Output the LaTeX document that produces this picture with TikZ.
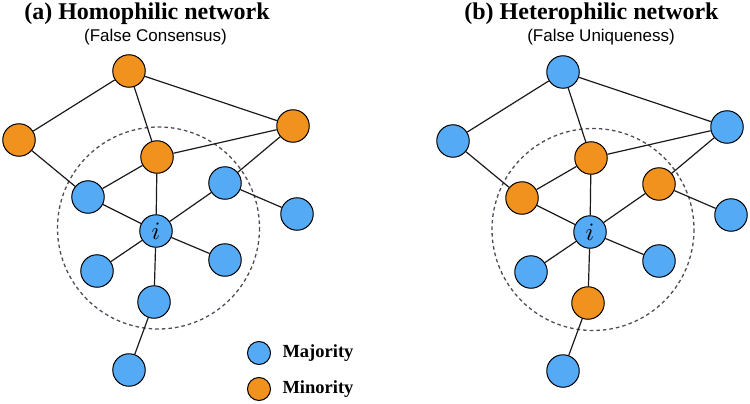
\documentclass[tikz,border=0pt]{standalone}
\usepackage{graphicx}
\usepackage{fontspec}
\setmainfont{Liberation Serif}
\newfontfamily\subfont{Liberation Sans}
\definecolor{majc}{HTML}{55AAF6}
\definecolor{minc}{HTML}{F2921E}
\definecolor{edgec}{HTML}{1A1A1A}
\definecolor{dashc}{HTML}{4A4F57}
\newcommand\ilabel{\scalebox{2.5}{$i$}}
\tikzset{
  nd/.style={circle,draw=black,line width=1pt,minimum size=32.5pt,inner sep=0pt},
  bnode/.style={nd,fill=majc},
  onode/.style={nd,fill=minc},
  lnk/.style={draw=edgec,line width=1.2pt},
  hood/.style={draw=dashc,line width=1.3pt,dash pattern=on 3.6pt off 3pt},
  ttl/.style={font=\fontsize{24}{28}\selectfont\bfseries,anchor=base},
  subttl/.style={font=\subfont\fontsize{17}{20}\selectfont,anchor=base},
  legc/.style={circle,draw=black,line width=1pt,minimum size=23pt,inner sep=0pt},
  legt/.style={font=\fontsize{18.5}{22}\selectfont\bfseries,anchor=base west},
}
\begin{document}
\begin{tikzpicture}[x=1pt,y=-1pt]
\useasboundingbox (0,0) rectangle (750,404);
% ---------- panel (a) ----------
\node[ttl] (ta) at (147,20) {(a) Homophilic network};
\node[subttl] (sa) at (155.5,42) {(False Consensus)};
\draw[hood] (158.5,228) circle [radius=101];
\node[onode] (aT)  at (129,71)  {};
\node[onode] (aL)  at (19,140)  {};
\node[onode] (aR)  at (293,126) {};
\node[onode] (aC)  at (157,157) {};
\node[bnode] (aUL) at (88,197)  {};
\node[bnode] (aUR) at (225,183) {};
\node[bnode] (aFR) at (297,214) {};
\node[bnode] (ai)  at (156,231) {\ilabel};
\node[bnode] (aLL) at (97,271)  {};
\node[bnode] (aLR) at (225,260) {};
\node[bnode] (aBI) at (154,302) {};
\node[bnode] (aBO) at (129,370) {};
\foreach \u/\v in {aT/aL,aT/aR,aT/aC,aL/aUL,aC/aR,aC/aUL,aC/ai,aR/aUR,aUR/ai,aUR/aFR,ai/aUL,ai/aLL,ai/aLR,ai/aBI,aBI/aBO}
  \draw[lnk] (\u) -- (\v);
% ---------- panel (b) ----------
\node[ttl] (tb) at (591.5,20) {(b) Heterophilic network};
\node[subttl] (sb) at (601,42) {(False Uniqueness)};
\draw[hood] (593,229.5) circle [radius=101];
\node[bnode] (bT)  at (563,72)  {};
\node[bnode] (bL)  at (453,141) {};
\node[bnode] (bR)  at (727,127) {};
\node[onode] (bC)  at (591,158) {};
\node[onode] (bUL) at (522,198) {};
\node[onode] (bUR) at (659,184) {};
\node[bnode] (bFR) at (731,215) {};
\node[bnode] (bi)  at (590,232) {\ilabel};
\node[bnode] (bLL) at (531,272) {};
\node[bnode] (bLR) at (659,261) {};
\node[onode] (bBI) at (588,303) {};
\node[bnode] (bBO) at (563,371) {};
\foreach \u/\v in {bT/bL,bT/bR,bT/bC,bL/bUL,bC/bR,bC/bUL,bC/bi,bR/bUR,bUR/bi,bUR/bFR,bi/bUL,bi/bLL,bi/bLR,bi/bBI,bBI/bBO}
  \draw[lnk] (\u) -- (\v);
% ---------- legend ----------
\node[legc,fill=majc] (lg1) at (259,353) {};
\node[legc,fill=minc] (lg2) at (259,389) {};
\node[legt] (lt1) at (279,357) {Majority};
\node[legt] (lt2) at (279,393) {Minority};
\end{tikzpicture}
\end{document}
